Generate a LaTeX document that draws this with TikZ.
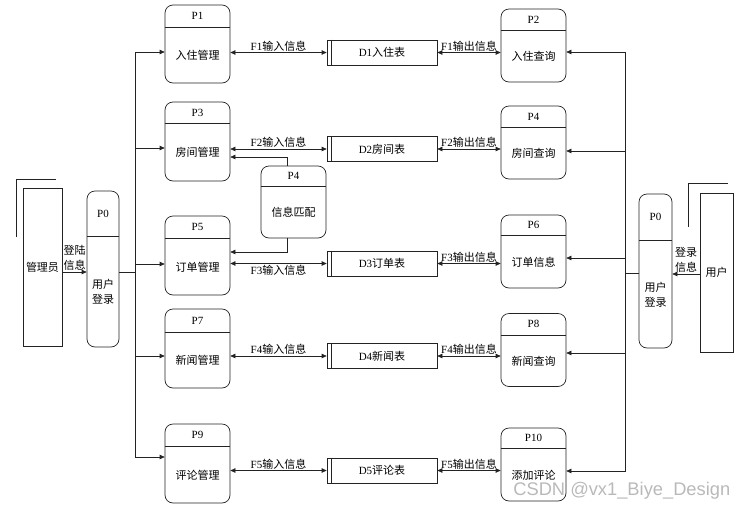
\documentclass[tikz,border=0pt]{standalone}
\usepackage{fontspec}
\setmainfont{Liberation Serif}
\newfontfamily\cjk{Noto Sans CJK SC}
\newfontfamily\wmfont{Liberation Sans}
\usetikzlibrary{arrows.meta,positioning,calc}
\definecolor{ink}{RGB}{35,35,35}
\tikzset{
  proc/.style={draw=ink,rounded corners=8pt,minimum width=65pt,inner sep=0pt},
  store/.style={draw=ink,minimum width=110pt,minimum height=25pt,inner sep=0pt},
  ent/.style={draw=ink,inner sep=0pt},
  ar/.style={draw=ink,-{Triangle[length=5pt,width=4.5pt]}},
  dar/.style={draw=ink,{Triangle[length=5pt,width=4.5pt]}-{Triangle[length=5pt,width=4.5pt]}},
  tag/.style={inner sep=1pt,align=center},
}
\newcommand{\zh}[1]{{\cjk #1}}
% process: [header]{name}{centre}{size}{id}{text}
\newcommand{\proc}[6][22]{%
  \node[proc,#4] (#2) at #3 {};
  \draw[ink] ([yshift=-#1pt]#2.north west) -- ([yshift=-#1pt]#2.north east);
  \node (#2-id) at ([yshift=-#1pt/2]#2.north) {#5};
  \node[align=center] (#2-tx) at ($(#2.south)!.5!([yshift=-#1pt]#2.north)$) {#6};}
% data store: {name}{centre}{text}
\newcommand{\store}[3]{%
  \node[store] (#1) at #2 {#3};
  \draw[ink] ([xshift=5pt]#1.north west) -- ([xshift=5pt]#1.south west);}

\begin{document}
\begin{tikzpicture}[x=1pt,y=-1pt,line width=0.7pt,
  every node/.style={font=\fontsize{11}{15}\selectfont}]
  \useasboundingbox (0,0) rectangle (745,512);
  % external entities
  \node[ent,minimum width=39pt,minimum height=158pt] (admin) at (42.5,267) {\zh{管理员}};
  \node[ent,minimum width=33pt,minimum height=159pt] (user) at (716.5,272.5) {\zh{用户}};
  \draw[ink] ([shift={(-6pt,-49pt)}]admin.north west) |- ([shift={(33pt,8pt)}]admin.north west);
  \draw[ink] ([shift={(-11pt,-34pt)}]user.north west) |- ([shift={(28pt,9pt)}]user.north west);
  % login
  \proc[46]{p0l}{(103,269)}{minimum width=32pt,minimum height=156pt}{P0}{\zh{用户}\\\zh{登录}}
  \proc[47]{p0r}{(655.5,271)}{minimum width=33pt,minimum height=154pt}{P0}{\zh{用户}\\\zh{登录}}
  % management side
  \proc[23]{p1}{(197.5,44)}{minimum height=78pt}{P1}{\zh{入住管理}}
  \proc[22]{p3}{(197.5,141.5)}{minimum height=79pt}{P3}{\zh{房间管理}}
  \proc[23]{p5}{(197.5,255.5)}{minimum height=79pt}{P5}{\zh{订单管理}}
  \proc[24]{p7}{(197.5,348.5)}{minimum height=79pt}{P7}{\zh{新闻管理}}
  \proc[23]{p9}{(197.5,463.5)}{minimum height=79pt}{P9}{\zh{评论管理}}
  % user side
  \proc{p2}{(533.5,45.5)}{minimum height=73pt}{P2}{\zh{入住查询}}
  \proc{p4}{(533.5,142.5)}{minimum height=73pt}{P4}{\zh{房间查询}}
  \proc[21]{p6}{(533.5,251.5)}{minimum height=73pt}{P6}{\zh{订单信息}}
  \proc{p8}{(533.5,350)}{minimum height=73pt}{P8}{\zh{新闻查询}}
  \proc[21]{p10}{(533.5,464.5)}{minimum height=73pt}{P10}{\zh{添加评论}}
  \proc[21]{pm}{(293.5,202)}{minimum height=72pt}{P4}{\zh{信息匹配}}
  % stores
  \store{d1}{(382,52.5)}{D1\zh{入住表}}
  \store{d2}{(382,149)}{D2\zh{房间表}}
  \store{d3}{(382,263.5)}{D3\zh{订单表}}
  \store{d4}{(382,356)}{D4\zh{新闻表}}
  \store{d5}{(382,470.5)}{D5\zh{评论表}}
  % flows
  \foreach \d/\a/\b/\f/\s in {d1/p1/p2/F1/south,d2/p3/p4/F2/south,d3/p5/p6/F3/north,
      d4/p7/p8/F4/south,d5/p9/p10/F5/south}{
    \draw[dar] (\a.east |- \d) -- (\d) node[midway,tag,anchor=\s] {\f\zh{输入信息}};
    \draw[dar] (\d) -- (\b.west |- \d) node[midway,tag,anchor=south] {\f\zh{输出信息}};
  }
  \draw[ar] ([xshift=-6.5pt]pm.north) |- ([yshift=-15.5pt]p3.east);
  \draw[ar] ([xshift=-6.5pt]pm.south) |- ([yshift=3.5pt]p5.east);
  % login flows and trunks
  \draw[ar] ([yshift=-5pt]admin.east) -- ([yshift=-5pt]admin.east -| p0l.west)
    node[midway,tag,anchor=south] {\zh{登陆}\\\zh{信息}};
  \draw[ar] ([yshift=-1.5pt]user.west) -- ([yshift=-1.5pt]user.west -| p0r.east)
    node[midway,tag,anchor=south] {\zh{登录}\\\zh{信息}};
  \coordinate (tl) at (135,272);
  \coordinate (tr) at (625,273);
  \draw[ink] (p0l.east |- tl) -- (tl);
  \draw[ink] (tr) -- (p0r.west |- tr);
  \foreach \p/\y in {p1/-8,p3/-6.5,p5/-8.5,p7/-7.5,p9/6.5}
    \draw[ar] (tl) |- ([yshift=\y pt]\p.west);
  \foreach \p/\y in {p2/-6.5,p4/-8.5,p6/-6.5,p8/-3,p10/-6.5}
    \draw[ar] (tr) |- ([yshift=\y pt]\p.east);
  \node[anchor=west,inner sep=0pt,text=gray!55,font=\fontsize{18.3}{20}\selectfont\wmfont]
    (wm) at (513,491) {CSDN @vx1\_Biye\_Design};
\end{tikzpicture}
\end{document}
